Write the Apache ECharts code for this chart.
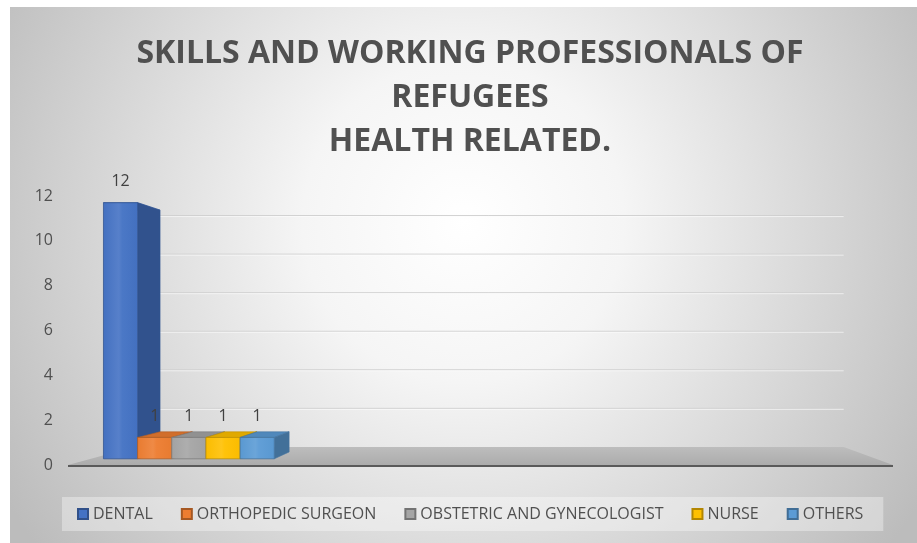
<!DOCTYPE html>
<html>
<head>
<meta charset="utf-8">
<script src="https://cdn.jsdelivr.net/npm/echarts@6/dist/echarts.min.js"></script>
<style>
  html, body { margin: 0; padding: 0; background: #ffffff; }
  #chart { width: 917px; height: 543px; }
</style>
</head>
<body>
<div id="chart"></div>
<script>
// Data
const categories = ['HEALTH RELATED'];
const seriesNames = ['DENTAL', 'ORTHOPEDIC SURGEON', 'OBSTETRIC AND GYNECOLOGIST', 'NURSE', 'OTHERS'];
const dental = [12];
const orthopedicSurgeon = [1];
const obstetricAndGynecologist = [1];
const nurse = [1];
const others = [1];
const yTicks = [0, 2, 4, 6, 8, 10, 12];

const seriesValues = [dental, orthopedicSurgeon, obstetricAndGynecologist, nurse, others];
const palette = ['#4472C4', '#ED7D31', '#A5A5A5', '#FFC000', '#5B9BD5'];

// The category axis keeps room for empty slots after the filled one
const SLOT_COUNT = 4;
const axisCategories = categories.concat(new Array(SLOT_COUNT - categories.length).fill(''));

// Simple perspective: every point recedes toward a vanishing point by a depth fraction
const DEPTH_FRONT = 0.048;
const DEPTH_BACK = 0.101;
const DEPTH_WALL = 0.14;
const GROUP_FRACTION = 0.87;

function vanishing(cs) {
  return [cs.x + 0.573 * cs.width, cs.y + 0.52 * cs.height];
}
function project(p, k, vp) {
  return [p[0] + k * (vp[0] - p[0]), p[1] + k * (vp[1] - p[1])];
}
function shade(hex, f) {
  const n = parseInt(hex.slice(1), 16);
  let r = (n >> 16) & 255, g = (n >> 8) & 255, b = n & 255;
  const mix = c => Math.max(0, Math.min(255, Math.round(f < 0 ? c * (1 + f) : c + (255 - c) * f)));
  return 'rgb(' + mix(r) + ',' + mix(g) + ',' + mix(b) + ')';
}

function renderBox(params, api) {
  const cs = params.coordSys;
  const vp = vanishing(cs);
  const slot = seriesNames.indexOf(params.seriesName);
  const color = palette[slot];
  const cat = api.value(0);
  const val = api.value(1);
  const topPt = api.coord([cat, val]);
  const basePt = api.coord([cat, 0]);
  const band = api.size([1, 0])[0];
  const groupW = band * GROUP_FRACTION;
  const bw = groupW / seriesNames.length;
  const x0 = topPt[0] - groupW / 2 + slot * bw;
  const x1 = x0 + bw;
  const yT = topPt[1], yB = basePt[1];

  const fTL = project([x0, yT], DEPTH_FRONT, vp);
  const fTR = project([x1, yT], DEPTH_FRONT, vp);
  const fBR = project([x1, yB], DEPTH_FRONT, vp);
  const fBL = project([x0, yB], DEPTH_FRONT, vp);
  const bTL = project([x0, yT], DEPTH_BACK, vp);
  const bTR = project([x1, yT], DEPTH_BACK, vp);
  const bBR = project([x1, yB], DEPTH_BACK, vp);

  const frontFill = new echarts.graphic.LinearGradient(0, 0, 1, 0, [
    { offset: 0, color: shade(color, -0.02) },
    { offset: 0.45, color: shade(color, 0.1) },
    { offset: 0.55, color: shade(color, 0.04) },
    { offset: 1, color: shade(color, -0.02) }
  ]);
  const edge = shade(color, -0.25);

  return {
    type: 'group',
    children: [
      { type: 'polygon', shape: { points: [fTL, fTR, bTR, bTL] },
        style: { fill: shade(color, -0.12), stroke: edge, lineWidth: 0.6 } },
      { type: 'polygon', shape: { points: [fTR, bTR, bBR, fBR] },
        style: { fill: shade(color, -0.28), stroke: edge, lineWidth: 0.6 } },
      { type: 'polygon', shape: { points: [fTL, fTR, fBR, fBL] },
        style: { fill: frontFill, stroke: edge, lineWidth: 0.8 } },
      { type: 'text',
        style: { text: String(val), x: (fTL[0] + fTR[0]) / 2, y: fTL[1] - 21,
                 align: 'center', verticalAlign: 'middle',
                 fill: '#404040', fontSize: 16, fontFamily: '"Open Sans", sans-serif' } }
    ]
  };
}

// Floor slab and back-wall gridlines
function renderStage(params, api) {
  const cs = params.coordSys;
  const vp = vanishing(cs);
  const y0 = api.coord([0, 0])[1];
  const left = cs.x, right = cs.x + cs.width;
  const children = [];
  yTicks.slice(1).forEach(t => {
    const y = api.coord([0, t])[1];
    const a = project([left, y], DEPTH_WALL, vp);
    const b = project([right, y], DEPTH_WALL, vp);
    children.push({ type: 'line', shape: { x1: a[0], y1: a[1], x2: b[0], y2: b[1] },
      style: { stroke: '#d0d0d0', lineWidth: 1 } });
    children.push({ type: 'line', shape: { x1: a[0], y1: a[1] + 1, x2: b[0], y2: b[1] + 1 },
      style: { stroke: 'rgba(255,255,255,0.6)', lineWidth: 1 } });
  });
  const fl = [left, y0], fr = [right, y0];
  const bl = project(fl, DEPTH_WALL, vp), br = project(fr, DEPTH_WALL, vp);
  children.push({ type: 'polygon', shape: { points: [fl, fr, br, bl] },
    style: { fill: new echarts.graphic.LinearGradient(0, 0, 0, 1, [
      { offset: 0, color: '#bdbdbd' }, { offset: 1, color: '#acacac' }]) } });
  children.push({ type: 'line', shape: { x1: fl[0], y1: y0 + 1, x2: fr[0], y2: y0 + 1 },
    style: { stroke: '#5a5a5a', lineWidth: 2 } });
  return { type: 'group', children };
}

const chart = echarts.init(document.getElementById('chart'), null, { renderer: 'canvas' });

const series = [{
  type: 'custom',
  name: 'stage',
  renderItem: renderStage,
  data: [[0, 0]],
  z: 1,
  silent: true
}].concat(seriesNames.map((name, i) => ({
  type: 'custom',
  name: name,
  renderItem: renderBox,
  itemStyle: { color: palette[i], borderColor: shade(palette[i], -0.3), borderWidth: 1 },
  data: seriesValues[i].map((v, c) => [c, v]),
  encode: { x: 0, y: 1 },
  z: 2
})));

chart.setOption({
  backgroundColor: '#ffffff',
  animation: false,
  graphic: [{
    type: 'rect', z: -10, silent: true,
    shape: { x: 10, y: 7, width: 907, height: 536 },
    style: { fill: new echarts.graphic.RadialGradient(0.5, 0.4, 1, [
      { offset: 0, color: '#ffffff' },
      { offset: 0.3, color: '#f5f5f5' },
      { offset: 1, color: '#bcbcbc' }
    ]) }
  }],
  title: {
    text: 'SKILLS AND WORKING PROFESSIONALS OF\nREFUGEES\nHEALTH RELATED.',
    left: 465,
    top: 27,
    textAlign: 'center',
    textStyle: {
      fontFamily: '"Open Sans", sans-serif',
      fontSize: 32, fontWeight: 'bold', color: '#505050', lineHeight: 44
    }
  },
  legend: {
    data: seriesNames,
    left: 62,
    top: 497,
    padding: [9, 20, 9, 15],
    itemGap: 28,
    itemWidth: 10,
    itemHeight: 10,
    icon: 'rect',
    backgroundColor: 'rgba(255,255,255,0.35)',
    textStyle: { fontFamily: '"Open Sans", sans-serif', fontSize: 16, color: '#505050' }
  },
  grid: { left: 68, right: 24, top: 196, bottom: 78, containLabel: false },
  xAxis: {
    type: 'category',
    data: axisCategories,
    axisLine: { show: false }, axisTick: { show: false }, axisLabel: { show: false },
    splitLine: { show: false }
  },
  yAxis: {
    type: 'value', min: 0, max: 12, interval: 2,
    axisLine: { show: false }, axisTick: { show: false }, splitLine: { show: false },
    axisLabel: { margin: 15, fontFamily: '"Open Sans", sans-serif', fontSize: 16, color: '#505050' }
  },
  series: series
});
</script>
</body>
</html>
